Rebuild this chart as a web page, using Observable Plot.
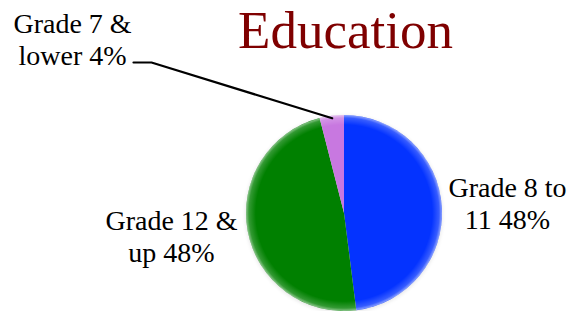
<!DOCTYPE html>
<html>
<head>
<meta charset="utf-8">
<script src="https://cdn.jsdelivr.net/npm/d3@7"></script>
<script src="https://cdn.jsdelivr.net/npm/@observablehq/plot@0.6"></script>
<style>
  html, body { margin: 0; padding: 0; background: #fff; }
  #chart svg { display: block; }
</style>
</head>
<body>
<div id="chart"></div>
<script>
// ---- data ----
const categories = ["Grade 8 to 11", "Grade 12 & up", "Grade 7 & lower"];
const shares = [48, 48, 4];
const labelLines = [["Grade 8 to", "11 48%"], ["Grade 12 &", "up 48%"], ["Grade 7 &", "lower 4%"]];
const sliceColors = ["#0433ff", "#008000", "#c878e0"];
const title = "Education";

// ---- layout ----
const W = 571, H = 311;
const cx = 344, cy = 213, R = 98;
const labelAnchors = [[507, 202], [171, 235], [72, 38]];
const leaderStart = [[133, 62], [151, 62]];
const serif = "'Liberation Serif', 'DejaVu Serif', serif";

const rows = categories.map((c, i) => ({category: c, share: shares[i], color: sliceColors[i], lines: labelLines[i]}));
const arcs = d3.pie().sort(null).value(d => d.share)(rows);
const arcGen = d3.arc().innerRadius(0).outerRadius(R);

function pieMark(index, scales, values, dims, context) {
  const ns = "http://www.w3.org/2000/svg";
  const g = document.createElementNS(ns, "g");
  g.innerHTML = `
    <defs>
      <radialGradient id="rim" cx="0" cy="0" r="${R}" gradientUnits="userSpaceOnUse">
        <stop offset="0.9" stop-color="#fff" stop-opacity="0"/>
        <stop offset="0.97" stop-color="#fff" stop-opacity="0.2"/>
        <stop offset="1" stop-color="#fff" stop-opacity="0.55"/>
      </radialGradient>
      <filter id="blur" x="-20%" y="-20%" width="140%" height="140%">
        <feGaussianBlur stdDeviation="2"/>
      </filter>
    </defs>`;
  const root = document.createElementNS(ns, "g");
  root.setAttribute("transform", `translate(${cx},${cy})`);
  const shadow = document.createElementNS(ns, "circle");
  shadow.setAttribute("cx", 0); shadow.setAttribute("cy", 1); shadow.setAttribute("r", R);
  shadow.setAttribute("fill", "#000"); shadow.setAttribute("opacity", 0.12);
  shadow.setAttribute("filter", "url(#blur)");
  root.appendChild(shadow);
  for (const a of arcs) {
    const p = document.createElementNS(ns, "path");
    p.setAttribute("d", arcGen(a));
    p.setAttribute("fill", a.data.color);
    root.appendChild(p);
  }
  const rim = document.createElementNS(ns, "circle");
  rim.setAttribute("r", R); rim.setAttribute("fill", "url(#rim)");
  root.appendChild(rim);
  g.appendChild(root);
  return g;
}

// leader line: from label to the outer edge of the small slice
const small = arcs[2];
const mid = (small.startAngle + small.endAngle) / 2;
const leaderEnd = [cx + R * Math.sin(mid), cy - R * Math.cos(mid) + 2];
const leader = [...leaderStart, leaderEnd].map(([x, y]) => ({x, y}));

const labels = arcs.map((a, i) => ({x: labelAnchors[i][0], y: labelAnchors[i][1], text: a.data.lines.join("\n")}));

const chart = Plot.plot({
  width: W,
  height: H,
  margin: 0,
  x: {type: "identity", axis: null},
  y: {type: "identity", axis: null},
  style: {background: "#fff", fontFamily: serif},
  marks: [
    pieMark,
    Plot.line(leader, {x: "x", y: "y", stroke: "#000", strokeWidth: 2.2, curve: "linear"}),
    Plot.text(labels, {x: "x", y: "y", text: "text", fontSize: 28, lineHeight: 1.17, textAnchor: "middle",
      fill: "#000", fontFamily: serif}),
    Plot.text([title], {x: () => 345, y: () => 31, text: d => d, fontSize: 53, textAnchor: "middle",
      fill: "#7f0000", fontFamily: serif})
  ]
});
document.getElementById("chart").appendChild(chart);
</script>
</body>
</html>
